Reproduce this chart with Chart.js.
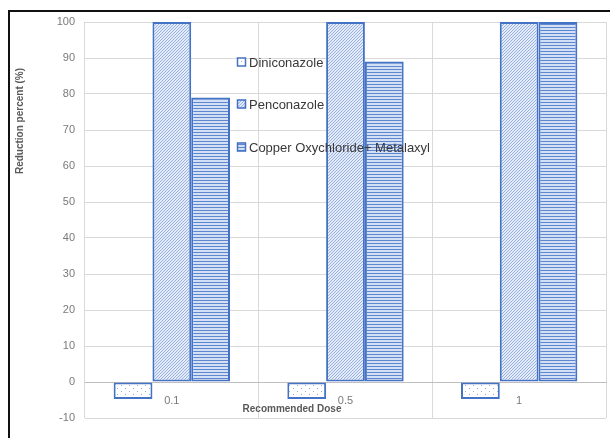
<!DOCTYPE html>
<html>
<head>
<meta charset="utf-8">
<script src="https://cdn.jsdelivr.net/npm/chart.js@4"></script>
<style>
  body { margin: 0; background: #fff; }
  #wrap { position: relative; width: 610px; height: 438px; }
  #frame { position: absolute; left: 8px; top: 10px; right: 0; bottom: 0;
           border-top: 2px solid #111; border-left: 2px solid #111; pointer-events: none; }
</style>
</head>
<body>
<div id="wrap">
  <canvas id="chart" width="610" height="438"></canvas>
  <div id="frame"></div>
</div>
<script>
const doses = ['0.1', '0.5', '1'];
const diniconazole = [-4.7, -4.7, -4.7];
const penconazole = [100, 100, 100];
const copperMetalaxyl = [79, 89, 100];
const seriesNames = ['Diniconazole', 'Penconazole', 'Copper Oxychloride+ Metalaxyl'];

const blue = '#4472C4';

function makePattern(w, h, draw) {
    const c = document.createElement('canvas');
    c.width = w; c.height = h;
    const g = c.getContext('2d');
    draw(g);
    return g.createPattern(c, 'repeat');
}

// dotted fill
const dots = makePattern(8, 6, g => {
    g.fillStyle = '#ffffff';
    g.fillRect(0, 0, 8, 6);
    g.fillStyle = '#8eaadf';
    g.fillRect(1, 1, 1, 1);
    g.fillRect(5, 4, 1, 1);
});
// diagonal hatch
const diag = makePattern(3, 3, g => {
    g.fillStyle = '#e4ebf8';
    g.fillRect(0, 0, 3, 3);
    g.fillStyle = '#9ab2e2';
    for (let i = 0; i < 3; i++) g.fillRect(i, 2 - i, 1, 1);
});
// horizontal lines
const horiz = makePattern(4, 3, g => {
    g.fillStyle = '#d3dff4';
    g.fillRect(0, 0, 4, 3);
    g.fillStyle = '#5f87d0';
    g.fillRect(0, 0, 4, 1);
});

const fills = [dots, diag, horiz];

const sideTexts = {
    id: 'sideTexts',
    afterDraw(chart) {
        const ctx = chart.ctx;
        const a = chart.chartArea;
        ctx.save();
        // legend inside the plot
        ctx.font = '13px "Liberation Sans", Arial, sans-serif';
        ctx.textBaseline = 'middle';
        const lx = a.left + 152;
        const ly = [a.top + 40, a.top + 82, a.top + 125];
        chart.data.datasets.forEach((ds, i) => {
            ctx.fillStyle = ds.backgroundColor;
            ctx.fillRect(lx, ly[i] - 4.5, 9, 9);
            ctx.strokeStyle = blue;
            ctx.lineWidth = 1.5;
            ctx.strokeRect(lx + 0.5, ly[i] - 4, 8, 8);
            ctx.fillStyle = '#383838';
            ctx.fillText(ds.label, lx + 12, ly[i] + 1);
        });
        // axis titles
        ctx.fillStyle = '#595959';
        ctx.font = 'bold 10px "Liberation Sans", Arial, sans-serif';
        ctx.textAlign = 'center';
        ctx.fillText('Recommended Dose', a.left + 207, a.bottom - 9);
        ctx.translate(20, a.top + 99);
        ctx.rotate(-Math.PI / 2);
        ctx.fillText('Reduction percent (%)', 0, 0);
        ctx.restore();
    }
};

new Chart(document.getElementById('chart').getContext('2d'), {
    type: 'bar',
    data: {
        labels: doses,
        datasets: [diniconazole, penconazole, copperMetalaxyl].map((vals, i) => ({
            label: seriesNames[i],
            data: vals,
            backgroundColor: fills[i],
            borderColor: blue,
            borderWidth: 2,
            borderSkipped: false,
            categoryPercentage: 0.67,
            barPercentage: 1.0
        }))
    },
    options: {
        responsive: false,
        animation: false,
        layout: { padding: { left: 0, top: 22, right: 4, bottom: 20 } },
        plugins: {
            legend: { display: false },
            tooltip: { enabled: false }
        },
        scales: {
            x: {
                position: { y: 0 },
                afterFit: s => { s.height = 0; },
                grid: { offset: true, color: '#d9d9d9', drawTicks: false },
                border: { color: '#bfbfbf' },
                ticks: { padding: 12, color: '#7a7a7a',
                         font: { family: '"Liberation Sans", Arial, sans-serif', size: 11 } }
            },
            y: {
                min: -10,
                max: 100,
                afterFit: s => { s.width = 85; },
                ticks: { stepSize: 10, padding: 10, color: '#7a7a7a',
                         font: { family: '"Liberation Sans", Arial, sans-serif', size: 11 } },
                grid: { color: '#d9d9d9', drawTicks: false },
                border: { display: false }
            }
        }
    },
    plugins: [sideTexts]
});
</script>
</body>
</html>
